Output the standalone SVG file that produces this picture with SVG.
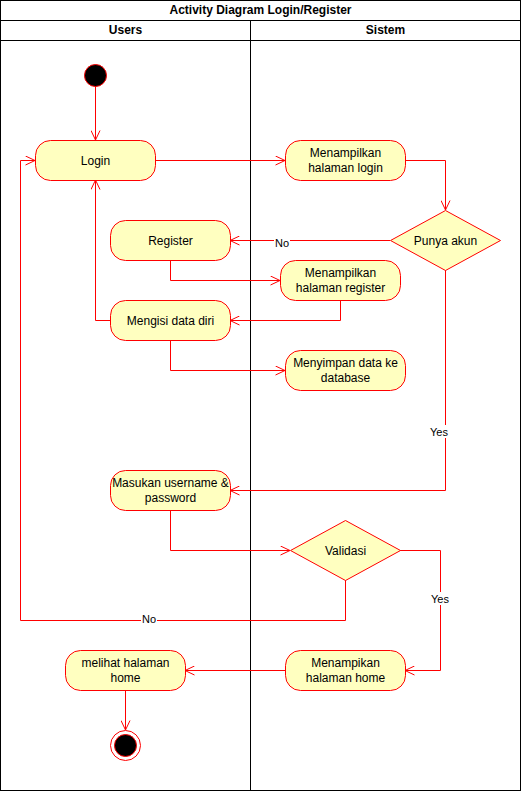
<svg xmlns="http://www.w3.org/2000/svg" width="521" height="791" viewBox="0 0 521 791">
<defs>
<marker id="open" viewBox="0 0 10 10" refX="10" refY="5" markerWidth="10" markerHeight="10" markerUnits="userSpaceOnUse" orient="auto">
<path d="M0.5,0.5 L10,5 L0.5,9.5" fill="none" stroke="#FF0000" stroke-width="1"/>
</marker>
</defs>
<style>
text{font-family:"Liberation Sans",Arial,sans-serif;font-size:12px;fill:#000;text-anchor:middle}
.hdr{font-weight:bold}
.lane{fill:none;stroke:#000;stroke-width:1}
.act{fill:#FFFFC0;stroke:#FF0000;stroke-width:1}
.edge{fill:none;stroke:#FF0000;stroke-width:1;marker-end:url(#open)}
.lbl{font-size:11px}
.lblbg{fill:#FFFFFF}
</style>
<rect width="521" height="791" fill="#FFFFFF"/>
<g id="swimlane">
<rect class="lane" x="0.5" y="0.5" width="520" height="790"/>
<line class="lane" x1="0.5" y1="20.5" x2="520.5" y2="20.5"/>
<line class="lane" x1="0.5" y1="40.5" x2="520.5" y2="40.5"/>
<line class="lane" x1="250.5" y1="20.5" x2="250.5" y2="790.5"/>
<text class="hdr" x="260.5" y="14">Activity Diagram Login/Register</text>
<text class="hdr" x="125.5" y="34">Users</text>
<text class="hdr" x="385.5" y="34">Sistem</text>
</g>
<g id="connectors">
<path class="edge" d="M95.5,86 L95.5,140"/>
<path class="edge" d="M155,160.5 L285,160.5"/>
<path class="edge" d="M405,160.5 L445.5,160.5 L445.5,210"/>
<path class="edge" d="M390,240.5 L230,240.5"/>
<path class="edge" d="M170.5,260 L170.5,280.5 L280,280.5"/>
<path class="edge" d="M340.5,300 L340.5,320.5 L230,320.5"/>
<path class="edge" d="M110,320.5 L95.5,320.5 L95.5,180"/>
<path class="edge" d="M170.5,340 L170.5,370.5 L285,370.5"/>
<path class="edge" d="M445.5,270 L445.5,490.5 L230,490.5"/>
<path class="edge" d="M170.5,510 L170.5,550.5 L290,550.5"/>
<path class="edge" d="M400,550.5 L440.5,550.5 L440.5,670.5 L405,670.5"/>
<path class="edge" d="M345.5,580 L345.5,620.5 L20.5,620.5 L20.5,160.5 L35,160.5"/>
<path class="edge" d="M285,670.5 L185,670.5"/>
<path class="edge" d="M125.5,690 L125.5,730"/>
<rect class="lblbg" x="274" y="236" width="16" height="13"/>
<text class="lbl" x="282" y="247">No</text>
<rect class="lblbg" x="429" y="425" width="20" height="13"/>
<text class="lbl" x="439" y="436">Yes</text>
<rect class="lblbg" x="430" y="592" width="20" height="13"/>
<text class="lbl" x="440" y="603">Yes</text>
<rect class="lblbg" x="141" y="613" width="16" height="13"/>
<text class="lbl" x="149" y="623">No</text>
</g>
<g id="start">
<circle cx="95.5" cy="75.5" r="11" fill="#000" stroke="#FF0000" stroke-width="1"/>
</g>
<g id="login">
<rect class="act" x="35.5" y="140.5" width="120" height="40" rx="15"/>
<text x="95.5" y="164.5">Login</text>
</g>
<g id="menampilkan-login">
<rect class="act" x="285.5" y="140.5" width="120" height="40" rx="15"/>
<text x="345.5" y="157">Menampilkan</text>
<text x="345.5" y="171.5">halaman login</text>
</g>
<g id="punya-akun">
<polygon class="act" points="445.5,210.5 500.5,240.5 445.5,270.5 390.5,240.5"/>
<text x="445.5" y="244.5">Punya akun</text>
</g>
<g id="register">
<rect class="act" x="110.5" y="220.5" width="120" height="40" rx="15"/>
<text x="170.5" y="244.5">Register</text>
</g>
<g id="menampilkan-register">
<rect class="act" x="280.5" y="260.5" width="120" height="40" rx="15"/>
<text x="340.5" y="277">Menampilkan</text>
<text x="340.5" y="291.5">halaman register</text>
</g>
<g id="mengisi">
<rect class="act" x="110.5" y="300.5" width="120" height="40" rx="15"/>
<text x="170.5" y="324.5">Mengisi data diri</text>
</g>
<g id="menyimpan">
<rect class="act" x="285.5" y="350.5" width="120" height="40" rx="15"/>
<text x="345.5" y="367">Menyimpan data ke</text>
<text x="345.5" y="381.5">database</text>
</g>
<g id="masukan">
<rect class="act" x="110.5" y="470.5" width="120" height="40" rx="15"/>
<text x="170.5" y="487">Masukan username &amp;</text>
<text x="170.5" y="501.5">password</text>
</g>
<g id="validasi">
<polygon class="act" points="345.5,520.5 400.5,550.5 345.5,580.5 290.5,550.5"/>
<text x="345.5" y="554.5">Validasi</text>
</g>
<g id="menampikan-home">
<rect class="act" x="285.5" y="650.5" width="120" height="40" rx="15"/>
<text x="345.5" y="667">Menampikan</text>
<text x="345.5" y="681.5">halaman home</text>
</g>
<g id="melihat-home">
<rect class="act" x="65.5" y="650.5" width="120" height="40" rx="15"/>
<text x="125.5" y="667">melihat halaman</text>
<text x="125.5" y="681.5">home</text>
</g>
<g id="end">
<circle cx="125.5" cy="745.5" r="15" fill="#FFFFFF" stroke="#FF0000" stroke-width="1"/>
<circle cx="125.5" cy="745.5" r="11" fill="#000" stroke="#FF0000" stroke-width="1"/>
</g>
</svg>
